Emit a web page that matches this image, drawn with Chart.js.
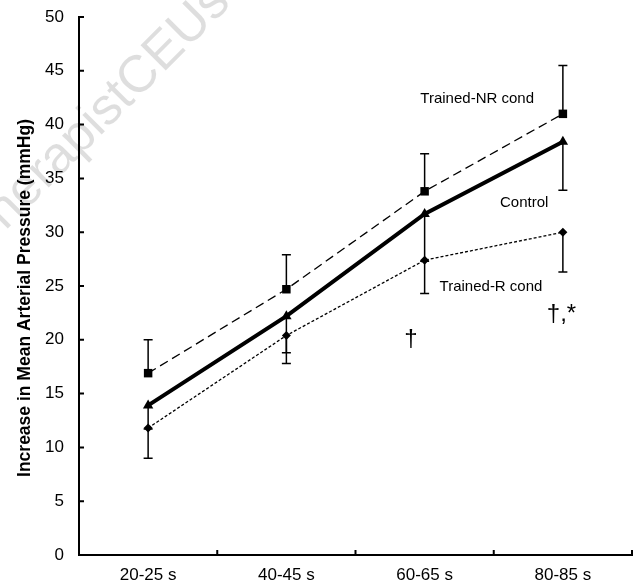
<!DOCTYPE html>
<html>
<head>
<meta charset="utf-8">
<script src="https://cdn.jsdelivr.net/npm/chart.js@4.4.0/dist/chart.umd.min.js"></script>
<style>
  html, body { margin: 0; padding: 0; background: #fff; }
</style>
</head>
<body>
<canvas id="mapChart" width="638" height="583"></canvas>
<script>
const categories = ['20-25 s', '40-45 s', '60-65 s', '80-85 s'];

const trainedNR = [16.9, 24.7, 33.8, 41.0];
const trainedNRErrUp = [3.1, 3.2, 3.5, 4.5];

const control = [13.9, 22.2, 31.7, 38.4];
const controlErrDown = [2.2, 3.4, 4.4, 4.5];

const trainedR = [11.8, 20.4, 27.4, 30.0];
const trainedRErrDown = [2.8, 2.6, 3.1, 3.7];

const yTicks = [0, 5, 10, 15, 20, 25, 30, 35, 40, 45, 50];
const yTitle = 'Increase in Mean Arterial Pressure (mmHg)';

// text notes placed in data space (category index, value)
const notes = [
    { text: 'Trained-NR cond', x: 2.38, y: 42.4, size: 15 },
    { text: 'Control', x: 2.72, y: 32.7, size: 15 },
    { text: 'Trained-R cond', x: 2.48, y: 24.9, size: 15 },
    { text: '\u2020', x: 1.9, y: 20.0, size: 24 },
    { text: '\u2020,*', x: 2.99, y: 22.4, size: 24 }
];

const FONT = '"Liberation Sans", Arial, sans-serif';

const watermark = {
    id: 'watermark',
    beforeDraw(chart) {
        const ctx = chart.ctx;
        ctx.save();
        ctx.translate(222, -6);
        ctx.rotate(-Math.PI / 4);
        ctx.font = '52px ' + FONT;
        ctx.fillStyle = 'rgba(0,0,0,0.13)';
        ctx.textAlign = 'right';
        ctx.textBaseline = 'middle';
        ctx.fillText('TherapistCEUs', 0, 0);
        ctx.restore();
    }
};

const errorBars = {
    id: 'errorBars',
    afterDatasetsDraw(chart) {
        const ctx = chart.ctx;
        const yScale = chart.scales.y;
        ctx.save();
        ctx.strokeStyle = '#000';
        ctx.lineWidth = 1.5;
        chart.data.datasets.forEach((ds, di) => {
            const meta = chart.getDatasetMeta(di);
            meta.data.forEach((pt, i) => {
                const v = ds.data[i];
                let end = null;
                if (ds.errUp) end = v + ds.errUp[i];
                if (ds.errDown) end = v - ds.errDown[i];
                if (end === null) return;
                const y0 = yScale.getPixelForValue(v);
                const y1 = yScale.getPixelForValue(end);
                ctx.beginPath();
                ctx.moveTo(pt.x, y0);
                ctx.lineTo(pt.x, y1);
                ctx.moveTo(pt.x - 4.5, y1);
                ctx.lineTo(pt.x + 4.5, y1);
                ctx.stroke();
            });
        });
        ctx.restore();
    }
};

const innerTicks = {
    id: 'innerTicks',
    afterDraw(chart) {
        const ctx = chart.ctx;
        const x = chart.scales.x;
        const y = chart.scales.y;
        const area = chart.chartArea;
        ctx.save();
        ctx.strokeStyle = '#000';
        ctx.lineWidth = 2;
        ctx.beginPath();
        yTicks.forEach(v => {
            const py = y.getPixelForValue(v);
            ctx.moveTo(area.left, py);
            ctx.lineTo(area.left + 5, py);
        });
        for (let i = 1; i <= categories.length; i++) {
            const px = x.getPixelForValue(i - 0.5);
            ctx.moveTo(px, area.bottom);
            ctx.lineTo(px, area.bottom - 5);
        }
        ctx.stroke();

        ctx.fillStyle = '#000';
        ctx.textAlign = 'center';
        ctx.textBaseline = 'middle';
        notes.forEach(n => {
            ctx.font = n.size + 'px ' + FONT;
            ctx.fillText(n.text, x.getPixelForValue(n.x), y.getPixelForValue(n.y));
        });

        // axis title, a little below the middle as in the original
        ctx.translate(25.5, (area.top + area.bottom) / 2 + 12);
        ctx.rotate(-Math.PI / 2);
        ctx.font = 'bold 17.5px ' + FONT;
        ctx.fillText(yTitle, 0, 0);
        ctx.restore();
    }
};

const ctx = document.getElementById('mapChart').getContext('2d');
new Chart(ctx, {
    type: 'line',
    data: {
        labels: categories,
        datasets: [
            {
                label: 'Trained-NR cond',
                data: trainedNR,
                errUp: trainedNRErrUp,
                borderColor: '#000',
                backgroundColor: '#000',
                borderWidth: 1.3,
                borderDash: [9, 5],
                pointStyle: 'rect',
                pointRadius: 6,
                pointBorderWidth: 0,
                tension: 0,
                fill: false
            },
            {
                label: 'Control',
                data: control,
                errDown: controlErrDown,
                borderColor: '#000',
                backgroundColor: '#000',
                borderWidth: 4,
                pointStyle: 'triangle',
                pointRadius: 6,
                pointBorderWidth: 0,
                tension: 0,
                fill: false
            },
            {
                label: 'Trained-R cond',
                data: trainedR,
                errDown: trainedRErrDown,
                borderColor: '#000',
                backgroundColor: '#000',
                borderWidth: 1.3,
                borderDash: [3, 2],
                pointStyle: 'rectRot',
                pointRadius: 4.5,
                pointBorderWidth: 0,
                tension: 0,
                fill: false
            }
        ]
    },
    options: {
        responsive: false,
        animation: false,
        layout: { padding: { top: 17, right: 5, left: 0, bottom: 0 } },
        scales: {
            x: {
                offset: true,
                grid: { display: false, drawTicks: false, offset: true },
                border: { display: true, color: '#000', width: 2 },
                ticks: { color: '#000', padding: 10, font: { family: FONT, size: 17 } },
                afterFit(s) { s.height = 28; }
            },
            y: {
                min: 0,
                max: 50,
                grid: { display: false, drawTicks: false },
                border: { display: true, color: '#000', width: 2 },
                ticks: { stepSize: 5, color: '#000', padding: 15, font: { family: FONT, size: 17 } },
                afterFit(s) {
                    s.width = 79;
                    s.paddingTop = 0;
                    s.paddingBottom = 0;
                }
            }
        },
        plugins: {
            legend: { display: false },
            tooltip: { enabled: false }
        }
    },
    plugins: [watermark, errorBars, innerTicks]
});
</script>
</body>
</html>
